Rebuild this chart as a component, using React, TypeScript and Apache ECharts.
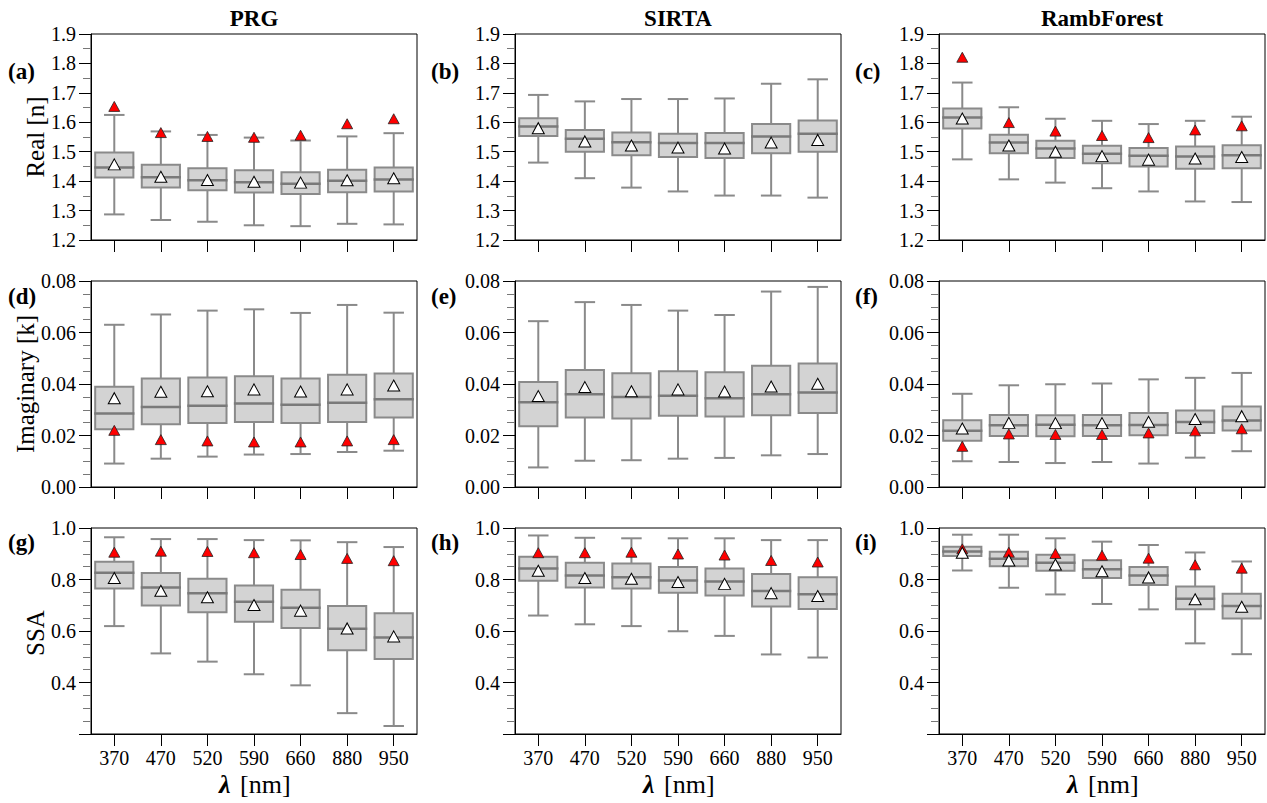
import React, { useEffect, useRef } from "react";
import * as echarts from "echarts";

const categories = ["370", "470", "520", "590", "660", "880", "950"];
const siteNames = ["PRG", "SIRTA", "RambForest"];
const panelLetters = ["(a)", "(b)", "(c)", "(d)", "(e)", "(f)", "(g)", "(h)", "(i)"];
const rowNames = ["Real [n]", "Imaginary [k]", "SSA"];

// [min, q1, median, q3, max]
const prgRealBox = [
  [1.287, 1.412, 1.446, 1.497, 1.625],
  [1.268, 1.378, 1.413, 1.456, 1.569],
  [1.262, 1.369, 1.403, 1.444, 1.557],
  [1.25, 1.361, 1.396, 1.437, 1.548],
  [1.247, 1.356, 1.391, 1.43, 1.538],
  [1.255, 1.362, 1.401, 1.439, 1.552],
  [1.253, 1.365, 1.406, 1.446, 1.563],
];
const prgRealMean = [1.457, 1.415, 1.404, 1.398, 1.395, 1.403, 1.41];
const prgRealRed = [1.654, 1.565, 1.552, 1.549, 1.556, 1.595, 1.612];

const sirtaRealBox = [
  [1.463, 1.553, 1.586, 1.614, 1.693],
  [1.41, 1.5, 1.544, 1.574, 1.671],
  [1.378, 1.488, 1.532, 1.565, 1.679],
  [1.365, 1.482, 1.53, 1.561, 1.679],
  [1.351, 1.479, 1.53, 1.564, 1.681],
  [1.351, 1.495, 1.552, 1.594, 1.731],
  [1.344, 1.5, 1.561, 1.606, 1.746],
];
const sirtaRealMean = [1.58, 1.535, 1.521, 1.514, 1.511, 1.531, 1.54];
const sirtaRealRed: number[] = [];

const rambRealBox = [
  [1.474, 1.579, 1.616, 1.647, 1.735],
  [1.406, 1.495, 1.531, 1.558, 1.651],
  [1.395, 1.479, 1.511, 1.537, 1.612],
  [1.376, 1.461, 1.493, 1.52, 1.605],
  [1.365, 1.45, 1.486, 1.513, 1.594],
  [1.331, 1.442, 1.484, 1.518, 1.605],
  [1.329, 1.444, 1.488, 1.522, 1.619],
];
const rambRealMean = [1.613, 1.521, 1.5, 1.485, 1.473, 1.477, 1.482];
const rambRealRed = [1.821, 1.599, 1.57, 1.555, 1.548, 1.574, 1.588];

const prgImagBox = [
  [0.0091, 0.0224, 0.0285, 0.0389, 0.063],
  [0.011, 0.0244, 0.0311, 0.0421, 0.067],
  [0.0118, 0.0249, 0.0316, 0.0425, 0.0685],
  [0.0126, 0.0252, 0.0324, 0.043, 0.069],
  [0.0128, 0.0249, 0.0319, 0.0421, 0.0676],
  [0.0136, 0.0252, 0.0327, 0.0436, 0.0707],
  [0.0141, 0.027, 0.0341, 0.0441, 0.0677],
];
const prgImagMean = [0.0345, 0.037, 0.0372, 0.0379, 0.0371, 0.0379, 0.0394];
const prgImagRed = [0.022, 0.0184, 0.0179, 0.0175, 0.0175, 0.0179, 0.0184];

const sirtaImagBox = [
  [0.0076, 0.0236, 0.0329, 0.0408, 0.0644],
  [0.0102, 0.027, 0.036, 0.0454, 0.0718],
  [0.0104, 0.0266, 0.035, 0.0442, 0.0707],
  [0.011, 0.0277, 0.0354, 0.045, 0.0685],
  [0.0113, 0.0274, 0.0345, 0.0446, 0.0668],
  [0.0123, 0.0279, 0.036, 0.0471, 0.0759],
  [0.0128, 0.0287, 0.0367, 0.048, 0.0777],
];
const sirtaImagMean = [0.0353, 0.0388, 0.0372, 0.0379, 0.0371, 0.039, 0.0401];
const sirtaImagRed: number[] = [];

const rambImagBox = [
  [0.01, 0.018, 0.0218, 0.0259, 0.0362],
  [0.0097, 0.0198, 0.024, 0.028, 0.0395],
  [0.0093, 0.0197, 0.0242, 0.0279, 0.0399],
  [0.0097, 0.0198, 0.024, 0.028, 0.0402],
  [0.0091, 0.0201, 0.0241, 0.0287, 0.0418],
  [0.0114, 0.021, 0.0252, 0.0297, 0.0424],
  [0.0139, 0.0219, 0.0258, 0.0313, 0.0443],
];
const rambImagMean = [0.0227, 0.0249, 0.0248, 0.0248, 0.0253, 0.0264, 0.0275];
const rambImagRed = [0.0158, 0.0206, 0.0204, 0.0204, 0.021, 0.0218, 0.0226];

const prgSsaBox = [
  [0.619, 0.765, 0.826, 0.869, 0.964],
  [0.513, 0.699, 0.769, 0.825, 0.957],
  [0.481, 0.673, 0.747, 0.803, 0.957],
  [0.432, 0.636, 0.714, 0.777, 0.953],
  [0.389, 0.612, 0.69, 0.76, 0.952],
  [0.281, 0.525, 0.609, 0.697, 0.945],
  [0.231, 0.491, 0.575, 0.669, 0.926],
];
const prgSsaMean = [0.806, 0.756, 0.731, 0.701, 0.679, 0.61, 0.579];
const prgSsaRed = [0.906, 0.91, 0.909, 0.904, 0.897, 0.882, 0.873];

const sirtaSsaBox = [
  [0.66, 0.795, 0.843, 0.888, 0.971],
  [0.626, 0.769, 0.816, 0.865, 0.962],
  [0.619, 0.765, 0.809, 0.862, 0.96],
  [0.599, 0.749, 0.796, 0.849, 0.96],
  [0.581, 0.738, 0.792, 0.843, 0.96],
  [0.509, 0.695, 0.755, 0.821, 0.953],
  [0.497, 0.685, 0.743, 0.809, 0.953],
];
const sirtaSsaMean = [0.834, 0.806, 0.803, 0.79, 0.783, 0.747, 0.736];
const sirtaSsaRed = [0.904, 0.904, 0.906, 0.899, 0.895, 0.874, 0.868];

const rambSsaBox = [
  [0.835, 0.891, 0.909, 0.927, 0.974],
  [0.768, 0.851, 0.881, 0.908, 0.974],
  [0.742, 0.834, 0.865, 0.896, 0.96],
  [0.705, 0.806, 0.84, 0.875, 0.947],
  [0.684, 0.779, 0.816, 0.849, 0.934],
  [0.552, 0.684, 0.725, 0.773, 0.905],
  [0.51, 0.649, 0.697, 0.745, 0.87],
];
const rambSsaMean = [0.904, 0.874, 0.858, 0.832, 0.808, 0.723, 0.694];
const rambSsaRed = [0.919, 0.906, 0.901, 0.894, 0.883, 0.857, 0.844];

const panelData = [
  [prgRealBox, prgRealMean, prgRealRed],
  [sirtaRealBox, sirtaRealMean, sirtaRealRed],
  [rambRealBox, rambRealMean, rambRealRed],
  [prgImagBox, prgImagMean, prgImagRed],
  [sirtaImagBox, sirtaImagMean, sirtaImagRed],
  [rambImagBox, rambImagMean, rambImagRed],
  [prgSsaBox, prgSsaMean, prgSsaRed],
  [sirtaSsaBox, sirtaSsaMean, sirtaSsaRed],
  [rambSsaBox, rambSsaMean, rambSsaRed],
] as [number[][], number[], number[]][];

const rowAxes = [
  { min: 1.2, max: 1.9, interval: 0.1, decimals: 1, minorSplit: 2, hide: -1 },
  { min: 0, max: 0.08, interval: 0.02, decimals: 2, minorSplit: 4, hide: -1 },
  { min: 0.2, max: 1.0, interval: 0.2, decimals: 1, minorSplit: 4, hide: 0.2 },
];

const FONT = "'Liberation Serif', 'Times New Roman', serif";
const colLeft = [91, 515, 939];
const rowTop = [34, 281, 528];
const PW = 326;
const PH = 206;

export default function App() {
  const ref = useRef<HTMLDivElement>(null);
  useEffect(() => {
    if (!ref.current) return;
    const chart = echarts.init(ref.current, null, { renderer: "svg" });
    const grids: any[] = [];
    const xAxes: any[] = [];
    const yAxes: any[] = [];
    const series: any[] = [];
    const graphics: any[] = [];

    for (let r = 0; r < 3; r++) {
      const ax = rowAxes[r];
      for (let c = 0; c < 3; c++) {
        const i = r * 3 + c;
        const [box, mean, red] = panelData[i];
        grids.push({
          left: colLeft[c],
          top: rowTop[r],
          width: PW,
          height: PH,
          show: true,
          borderColor: "#000",
          borderWidth: 1,
          backgroundColor: "transparent",
        });
        xAxes.push({
          gridIndex: i,
          type: "category",
          data: categories,
          boundaryGap: true,
          axisLine: { show: true, lineStyle: { color: "#000", width: 1 } },
          axisTick: { show: true, alignWithLabel: true, length: 12, lineStyle: { color: "#000" } },
          axisLabel: {
            show: r === 2,
            color: "#000",
            fontFamily: FONT,
            fontSize: 20,
            margin: 14,
          },
          splitLine: { show: false },
        });
        yAxes.push({
          gridIndex: i,
          type: "value",
          min: ax.min,
          max: ax.max,
          interval: ax.interval,
          axisLine: { show: true, lineStyle: { color: "#000", width: 1 } },
          axisTick: { show: true, length: 12, lineStyle: { color: "#000" } },
          minorTick: { show: true, splitNumber: ax.minorSplit, length: 8, lineStyle: { color: "#777" } },
          splitLine: { show: false },
          minorSplitLine: { show: false },
          axisLabel: {
            color: "#000",
            fontFamily: FONT,
            fontSize: 20,
            margin: 15,
            formatter: (v: number) => (Math.abs(v - ax.hide) < 1e-9 ? "" : v.toFixed(ax.decimals)),
          },
        });
        series.push({
          type: "custom",
          xAxisIndex: i,
          yAxisIndex: i,
          data: box.map((b, k) => [k, ...b]),
          encode: { x: 0, y: [1, 2, 3, 4, 5] },
          z: 2,
          renderItem: (params: any, api: any) => {
            const k = api.value(0);
            const pMin = api.coord([k, api.value(1)]);
            const pQ1 = api.coord([k, api.value(2)]);
            const pMed = api.coord([k, api.value(3)]);
            const pQ3 = api.coord([k, api.value(4)]);
            const pMax = api.coord([k, api.value(5)]);
            const slot = api.size([1, 0])[0];
            const cx = pMed[0];
            const bw = slot * 0.82;
            const cw = slot * 0.44;
            const stroke = "#8a8a8a";
            return {
              type: "group",
              children: [
                { type: "line", shape: { x1: cx, y1: pMax[1], x2: cx, y2: pQ3[1] }, style: { stroke, lineWidth: 2 } },
                { type: "line", shape: { x1: cx, y1: pQ1[1], x2: cx, y2: pMin[1] }, style: { stroke, lineWidth: 2 } },
                { type: "line", shape: { x1: cx - cw / 2, y1: pMax[1], x2: cx + cw / 2, y2: pMax[1] }, style: { stroke, lineWidth: 2 } },
                { type: "line", shape: { x1: cx - cw / 2, y1: pMin[1], x2: cx + cw / 2, y2: pMin[1] }, style: { stroke, lineWidth: 2 } },
                {
                  type: "rect",
                  shape: { x: cx - bw / 2, y: pQ3[1], width: bw, height: pQ1[1] - pQ3[1] },
                  style: { fill: "#d3d3d3", stroke, lineWidth: 2 },
                },
                {
                  type: "line",
                  shape: { x1: cx - bw / 2 - 1, y1: pMed[1], x2: cx + bw / 2 + 1, y2: pMed[1] },
                  style: { stroke: "#7a7a7a", lineWidth: 2.5 },
                },
              ],
            };
          },
        });
        if (red.length) {
          series.push({
            type: "scatter",
            xAxisIndex: i,
            yAxisIndex: i,
            data: red.map((v, k) => [k, v]),
            symbol: "triangle",
            symbolSize: [11, 10],
            z: 3,
            itemStyle: { color: "#ff0000", borderColor: "#222", borderWidth: 0.8, opacity: 1 },
          });
        }
        series.push({
          type: "scatter",
          xAxisIndex: i,
          yAxisIndex: i,
          data: mean.map((v, k) => [k, v]),
          symbol: "triangle",
          symbolSize: [12, 11],
          z: 4,
          itemStyle: { color: "#ffffff", borderColor: "#000", borderWidth: 1, opacity: 1 },
        });

        graphics.push({
          type: "text",
          left: c === 0 ? 8 : colLeft[c] - 84,
          top: rowTop[r] + (r === 0 ? 26 : r === 1 ? 4 : 3),
          style: { text: panelLetters[i], font: `bold 23px ${FONT}`, fill: "#000" },
        });
      }
      graphics.push({
        type: "text",
        x: r === 1 ? 25 : 35,
        y: rowTop[r] + PH / 2 + (r === 2 ? 2 : 0),
        rotation: Math.PI / 2,
        style: {
          text: rowNames[r],
          font: `25px ${FONT}`,
          fill: "#000",
          align: "center",
          verticalAlign: "middle",
        },
      });
    }
    for (let c = 0; c < 3; c++) {
      const cx = colLeft[c] + PW / 2;
      graphics.push({
        type: "text",
        x: cx,
        y: 18,
        style: {
          text: siteNames[c],
          font: `bold 23px ${FONT}`,
          fill: "#000",
          align: "center",
          verticalAlign: "middle",
        },
      });
      graphics.push({
        type: "text",
        x: cx - 35,
        y: 784,
        style: {
          text: "λ",
          font: `italic bold 26px ${FONT}`,
          fill: "#000",
          align: "left",
          verticalAlign: "middle",
        },
      });
      graphics.push({
        type: "text",
        x: cx - 14,
        y: 784,
        style: {
          text: "[nm]",
          font: `26px ${FONT}`,
          fill: "#000",
          align: "left",
          verticalAlign: "middle",
        },
      });
    }

    chart.setOption({
      animation: false,
      backgroundColor: "#fff",
      grid: grids,
      xAxis: xAxes,
      yAxis: yAxes,
      series,
      graphic: graphics,
    });
    return () => chart.dispose();
  }, []);
  return (
    <div
      ref={ref}
      style={{ position: "absolute", left: 0, top: 0, width: 1267, height: 803 }}
    />
  );
}
